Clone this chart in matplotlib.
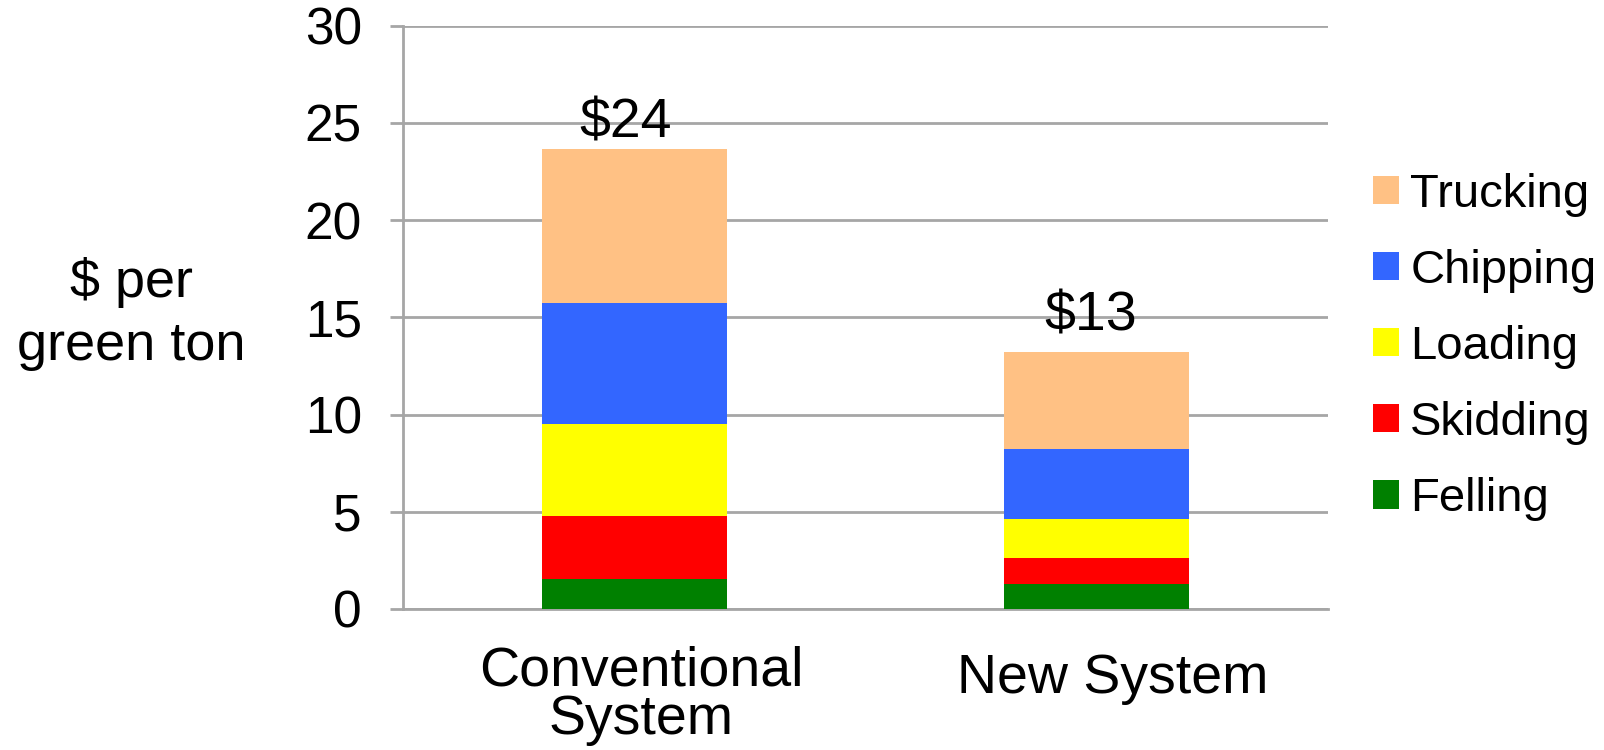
import numpy as np
import matplotlib
matplotlib.use("Agg")
import matplotlib.pyplot as plt
from matplotlib.transforms import ScaledTranslation

plt.rcParams["font.family"] = ["Liberation Sans", "DejaVu Sans"]

# Data ($ per green ton)
systems = ["Conventional\nSystem", "New System"]
stages = ["Felling", "Skidding", "Loading", "Chipping", "Trucking"]
felling = [1.53, 1.31]
skidding = [3.27, 1.31]
loading = [4.70, 1.99]
chipping = [6.23, 3.60]
trucking = [7.92, 5.00]
total_labels = ["$24", "$13"]

colors = ["#008000", "#FF0000", "#FFFF00", "#3366FF", "#FFC184"]
grid_col = "#A6A6A6"

# small per-label nudges (points) to match the original layout
total_offsets = [(-6.5, 8), (-4.5, 15.5)]
xlabel_offsets = [(5, -6), (11.5, -11.5)]

fig = plt.figure(figsize=(16.04, 7.5), dpi=100)
ax = fig.add_axes([0.2512, 0.188, 0.8279 - 0.2512, 0.966 - 0.188])

x = np.arange(len(systems))
bottom = np.zeros(len(systems))
handles = []
for name, vals, col in zip(stages, [felling, skidding, loading, chipping, trucking], colors):
    b = ax.bar(x, vals, width=0.40, bottom=bottom, color=col, label=name,
               zorder=3, linewidth=0)
    handles.append(b)
    bottom = bottom + np.array(vals)

# Total labels above bars
for xi, tot, lab, off in zip(x, bottom, total_labels, total_offsets):
    ax.annotate(lab, (xi, tot), xytext=off, textcoords="offset points",
                ha="center", va="baseline", fontsize=40)

ax.set_xlim(-0.5, 1.5)
ax.set_ylim(0, 30)
ax.set_yticks(range(0, 31, 5))
ax.yaxis.grid(True, color=grid_col, linewidth=2, zorder=0)
ax.set_axisbelow(True)

for side in ["top", "right"]:
    ax.spines[side].set_visible(False)
for side in ["left", "bottom"]:
    ax.spines[side].set_color(grid_col)
    ax.spines[side].set_linewidth(2)

ax.tick_params(axis="y", length=9.5, width=2, color=grid_col, pad=20,
               labelsize=37)
ax.set_xticks(x)
ax.set_xticklabels(systems, fontsize=40, linespacing=0.91)
ax.tick_params(axis="x", length=0, pad=20)
for lbl, (dx, dy) in zip(ax.get_xticklabels(), xlabel_offsets):
    lbl.set_transform(lbl.get_transform() +
                      ScaledTranslation(dx / 72, dy / 72, fig.dpi_scale_trans))

fig.text(131 / 1604, 1 - 314 / 750, "$ per\ngreen ton", ha="center",
         va="center", fontsize=39, linespacing=1.33)

fig.legend(handles[::-1], stages[::-1], loc="center left",
           bbox_to_anchor=(1373 / 1604, 1 - 347 / 750), frameon=False,
           fontsize=34, handlelength=0.54, handleheight=0.54,
           handletextpad=0.25, labelspacing=0.68, borderpad=0,
           borderaxespad=0)

fig.savefig("out.png", dpi=100)
